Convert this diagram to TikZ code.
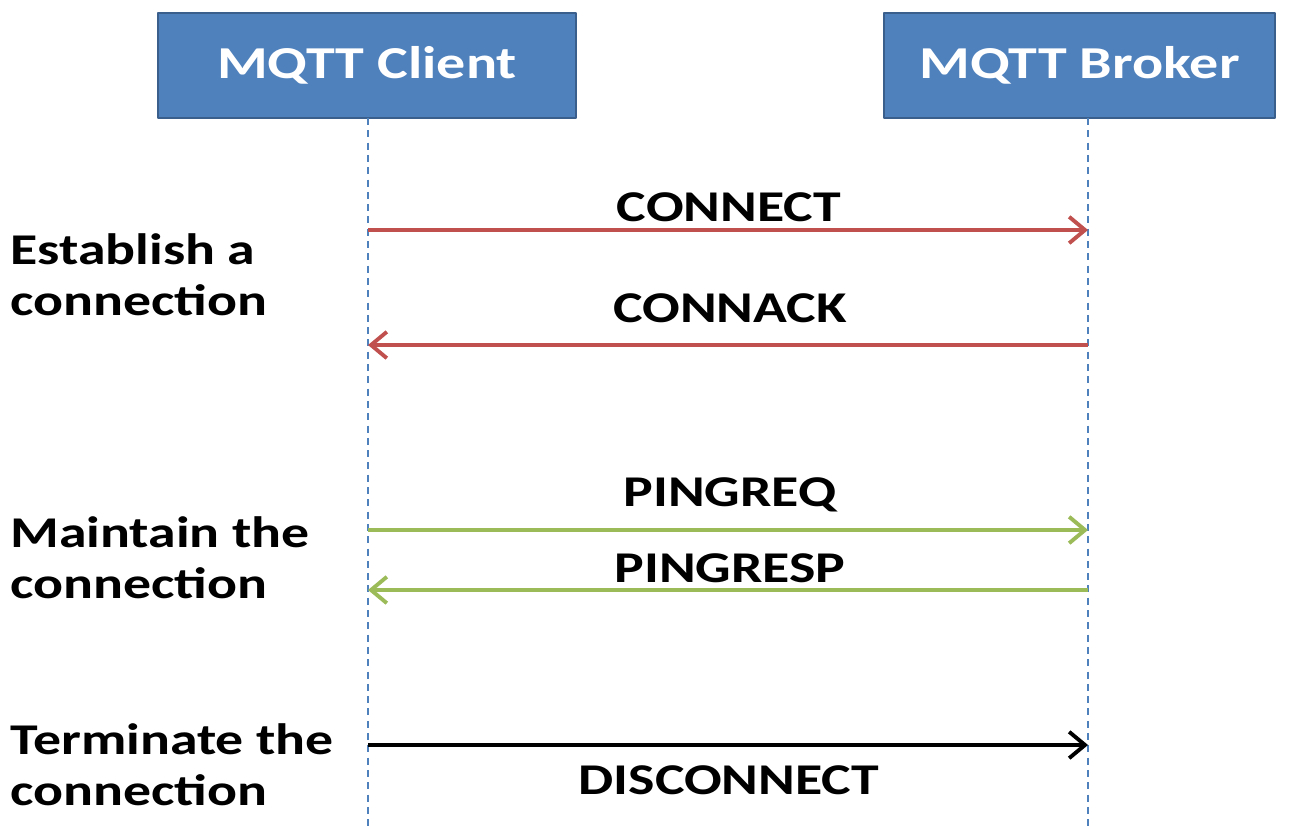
\documentclass[tikz,border=0pt]{standalone}
\usepackage{fontspec}
\setmainfont{Carlito}[FakeStretch=1.27]
\usetikzlibrary{arrows.meta}
\definecolor{boxblue}{HTML}{4F81BD}
\definecolor{boxedge}{HTML}{3A5F8C}
\definecolor{msgred}{HTML}{C0504D}
\definecolor{msggreen}{HTML}{9BBB59}
\tikzset{
  actor/.style={draw=boxedge,line width=1.6pt,fill=boxblue,text=white,minimum width=#1,minimum height=2.1cm,inner sep=0pt,font=\bfseries\fontsize{26}{30}\selectfont},
  lifeline/.style={draw=boxblue,line width=1pt,dash pattern=on 4pt off 3pt},
  msg/.style={line width=2.2pt,-{Straight Barb[length=9pt,width=15pt,line width=2.2pt]}},
  msglabel/.style={font=\bfseries\fontsize{25}{30}\selectfont,inner sep=0pt},
  phase/.style={font=\bfseries\fontsize{25}{29}\selectfont,align=left,anchor=west,inner sep=0pt}
}
\begin{document}
\begin{tikzpicture}[line cap=butt,line join=round,x=1.0cm,y=1.0cm]
				\useasboundingbox (0,0) rectangle (25.94,-16.54);
				% participants
				\node[actor=8.36cm] (client) at (7.34,-1.31) {MQTT Client};
				\node[actor=7.82cm] (broker) at (21.59,-1.31) {MQTT Broker};
				\coordinate (clientend) at (7.36,-16.54);
				\coordinate (brokerend) at (21.76,-16.54);
				\draw[lifeline] (7.36,-2.36) -- (clientend);
				\draw[lifeline] (21.76,-2.36) -- (brokerend);
				% points on the lifelines
				\coordinate (c1) at (7.36,-4.6);   \coordinate (b1) at (21.76,-4.6);
				\coordinate (c2) at (7.36,-6.9);   \coordinate (b2) at (21.76,-6.9);
				\coordinate (c3) at (7.36,-10.6);  \coordinate (b3) at (21.76,-10.6);
				\coordinate (c4) at (7.36,-11.8);  \coordinate (b4) at (21.76,-11.8);
				\coordinate (c5) at (7.36,-14.9);  \coordinate (b5) at (21.76,-14.9);
				% messages
				\draw[msg,msgred] (c1) -- (b1);
				\draw[msg,msgred] (b2) -- (c2);
				\draw[msg,msggreen] (c3) -- (b3);
				\draw[msg,msggreen] (b4) -- (c4);
				\draw[msg,black] (c5) -- (b5);
				\node[msglabel] (connect) at (14.58,-4.14) {CONNECT};
				\node[msglabel] (connack) at (14.6,-6.16) {CONNACK};
				\node[msglabel] (pingreq) at (14.6,-9.9) {PINGREQ};
				\node[msglabel] (pingresp) at (14.6,-11.36) {PINGRESP};
				\node[msglabel] (disconnect) at (14.58,-15.6) {DISCONNECT};
				% phases
				\node[phase] (establish) at (0.2,-5.5) {Establish a\\connection};
				\node[phase] (maintain) at (0.2,-11.15) {Maintain the\\connection};
				\node[phase] (terminate) at (0.2,-15.3) {Terminate the\\connection};
			\end{tikzpicture}
\end{document}
